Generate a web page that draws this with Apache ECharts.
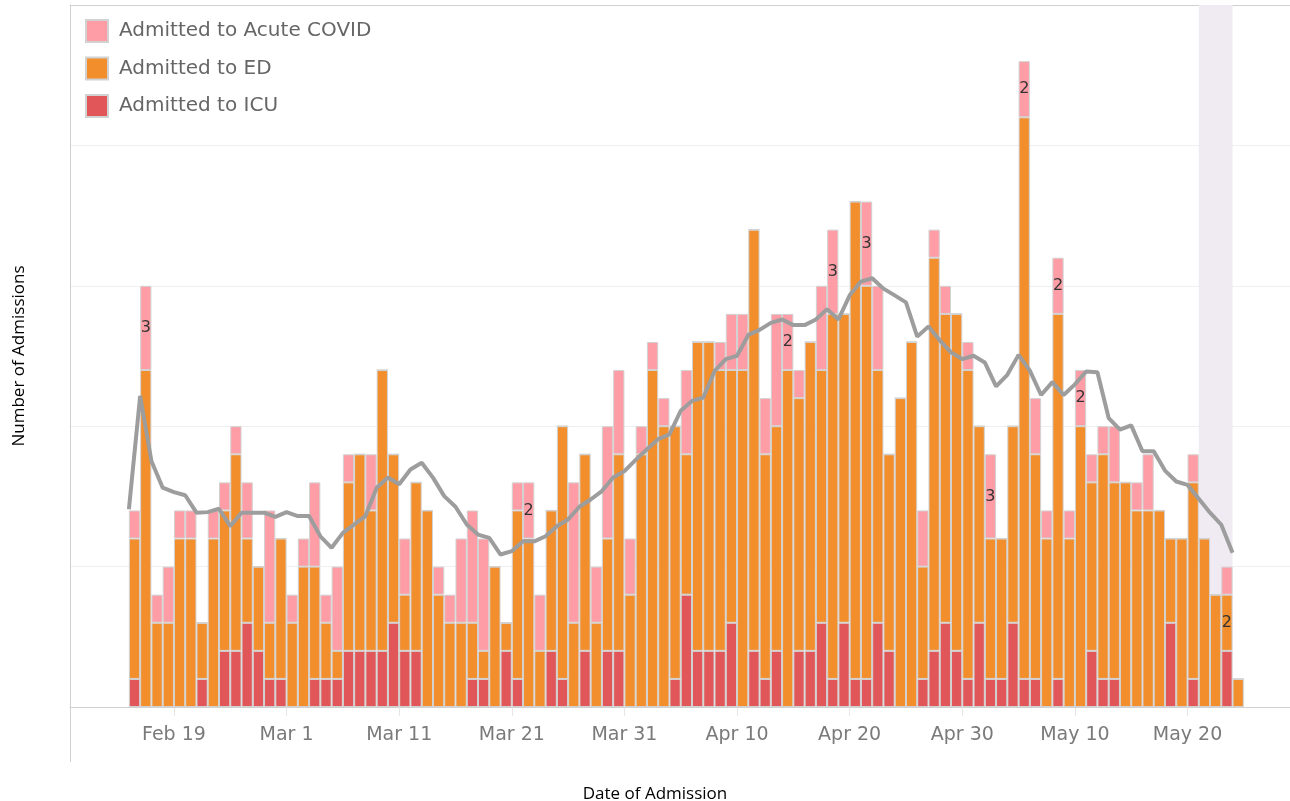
<!DOCTYPE html>
<html>
<head>
<meta charset="utf-8">
<script src="https://cdn.jsdelivr.net/npm/echarts@6/dist/echarts.min.js"></script>
<style>
html, body { margin: 0; padding: 0; background: #fff; }
#main { width: 1290px; height: 801px; }
</style>
</head>
<body>
<div id="main"></div>
<script>
// one bar per day, Feb 15 .. May 24 (99 days)
const startDate = Date.UTC(2021, 1, 15);
const icu = [1,0,0,0,0,0,1,0,2,2, 3,2,1,1,0,0,1,1,1,2, 2,2,2,3,2,2,0,0,0,0,
  1,1,0,2,1,0,0,2,1,0, 2,0,2,2,0,0,0,0,1,4, 2,2,2,3,0,2,1,2,0,2,
  2,3,1,3,1,1,3,2,0,0, 1,2,3,2,1,3,1,1,3,1, 1,0,1,0,0,2,1,1,0,0,
  0,0,3,0,1,0,0,2,0];
const ed = [5,12,3,3,6,6,2,6,5,7, 3,3,2,5,3,5,4,2,1,6, 7,5,10,6,2,6,7,4,3,3,
  2,1,5,1,6,6,2,5,9,3, 7,3,4,7,4,9,12,10,9,5, 11,11,10,9,12,15,8,8,12,9,
  11,9,13,11,17,14,9,7,11,13, 4,14,11,12,11,7,5,5,7,20, 8,6,13,6,10,6,8,7,8,7,
  7,7,3,6,7,6,4,2,1];
const acute = [1,3,1,2,1,1,0,1,1,1, 2,0,4,0,1,1,3,1,3,1, 0,2,0,0,2,0,0,1,1,3,
  4,4,0,0,1,2,2,0,0,5, 0,2,4,3,2,1,1,1,0,3, 0,0,1,2,2,0,2,4,2,1,
  0,3,3,0,0,3,3,0,0,0, 2,1,1,0,1,0,3,0,0,2, 2,1,2,1,2,1,1,2,0,1,
  2,0,0,0,1,0,0,1,0];
// moving average, one point at the start of each day
const movingAvg = [7.04,11.08,8.76,7.81,7.65,7.54,6.92,6.94,7.06,6.44,
  6.92,6.92,6.92,6.77,6.94,6.8,6.8,6.08,5.67,6.2,
  6.5,6.8,7.81,8.17,7.93,8.46,8.7,8.17,7.51,7.13,
  6.5,6.14,6.02,5.43,5.55,5.9,5.9,6.08,6.44,6.68,
  7.13,7.39,7.69,8.17,8.4,8.8,9.18,9.54,9.71,10.55,
  10.9,11.02,11.96,12.39,12.51,13.25,13.43,13.68,13.8,13.6,
  13.6,13.8,14.17,13.8,14.66,15.15,15.27,14.9,14.66,14.41,
  13.19,13.55,13.06,12.63,12.39,12.51,12.27,11.42,11.83,12.54,
  11.98,11.11,11.57,11.11,11.49,11.95,11.92,10.29,9.88,10.03,
  9.11,9.11,8.42,8.03,7.91,7.42,6.92,6.49,5.49];
const tickDays = [4,14,24,34,44,54,64,74,84,94];
const tickLabels = ['Feb 19','Mar 1','Mar 11','Mar 21','Mar 31','Apr 10','Apr 20','Apr 30','May 10','May 20'];
const acuteLabelDays = [1,35,58,62,65,76,79,82,84];
const edLabelDays = [97];
const shadedDays = [95, 98];

const DAY = 86400000;
const day = d => startDate + d * DAY;
const xMin = -5.23, xMax = 103.1;
// echarts widens a time axis by half a bar on each side when bars sit on it
const barPad = 0.5;
const font = '"Open Sans", sans-serif';
const tabFont = '"DejaVu Sans", sans-serif';
const chart = echarts.init(document.getElementById('main'));

function barData(values, labelDays) {
  return values.map((v, i) => ({
    value: [day(i + 0.5), v],
    label: { show: labelDays.includes(i) }
  }));
}

function barSeries(name, color, values, labelDays) {
  return {
    name: name,
    type: 'bar',
    stack: 'total',
    barWidth: 11.26,
    z: 3,
    itemStyle: { color: color, borderColor: '#d2d2d2', borderWidth: 1 },
    label: { position: 'inside', color: '#333', fontSize: 16, fontFamily: tabFont, formatter: p => p.value[1] },
    data: barData(values, labelDays)
  };
}

const option = {
  animation: false,
  grid: { left: 70, right: 0, top: 5, bottom: 94, outerBoundsMode: 'none' },
  legend: {
    data: ['Admitted to Acute COVID', 'Admitted to ED', 'Admitted to ICU'],
    orient: 'vertical',
    left: 85,
    top: 19,
    padding: 0,
    icon: 'rect',
    itemWidth: 22,
    itemHeight: 22,
    itemGap: 13.5,
    textStyle: { color: '#666', fontSize: 20, lineHeight: 22, fontFamily: tabFont, padding: [0, 0, 0, 6] }
  },
  xAxis: [
    {
      // date axis carrying the marks
      type: 'time',
      min: day(xMin + barPad),
      max: day(xMax - barPad),
      splitLine: { show: false },
      axisLine: { show: true, lineStyle: { color: '#d0d0d0' } },
      axisTick: { show: false },
      axisLabel: { show: false }
    },
    {
      type: 'value',
      position: 'top',
      min: xMin,
      max: xMax,
      splitLine: { show: false },
      axisLine: { show: true, onZero: false, lineStyle: { color: '#d0d0d0' } },
      axisTick: { show: false },
      axisLabel: { show: false }
    },
    {
      // same span in day numbers, only for ticks and labels
      type: 'value',
      position: 'bottom',
      min: xMin,
      max: xMax,
      splitLine: { show: false },
      axisLine: { show: false },
      axisTick: { show: true, customValues: tickDays, length: 9, lineStyle: { color: '#e6e6e6' } },
      axisLabel: {
        customValues: tickDays,
        formatter: v => tickLabels[tickDays.indexOf(v)],
        color: '#7a7a7a', fontSize: 19, fontFamily: tabFont, margin: 19
      },
      name: 'Date of Admission',
      nameLocation: 'middle',
      nameGap: 79,
      nameTextStyle: { color: '#000', fontSize: 17, fontFamily: font, padding: [0, 50, 0, 0] }
    }
  ],
  yAxis: {
    type: 'value',
    min: 0,
    max: 25,
    interval: 5,
    axisLabel: { show: false },
    axisTick: { show: false },
    axisLine: { show: true, onZero: false, lineStyle: { color: '#d0d0d0' } },
    splitLine: { lineStyle: { color: '#efefef' } },
    name: 'Number of Admissions',
    nameLocation: 'middle',
    nameRotate: 90,
    nameGap: 42,
    nameTextStyle: { color: '#000', fontSize: 17, fontFamily: font }
  },
  graphic: [{
    type: 'line',
    shape: { x1: 70.5, y1: 707, x2: 70.5, y2: 762 },
    style: { stroke: '#d0d0d0', lineWidth: 1 }
  }],
  series: [
    {
      name: 'shade',
      type: 'line',
      xAxisIndex: 2,
      z: 1,
      data: [],
      markArea: {
        silent: true,
        itemStyle: { color: '#f0eaf2' },
        data: [[{ xAxis: shadedDays[0] }, { xAxis: shadedDays[1] }]]
      }
    },
    barSeries('Admitted to ICU', '#e15759', icu, []),
    barSeries('Admitted to ED', '#f28e2b', ed, edLabelDays),
    barSeries('Admitted to Acute COVID', '#ff9da7', acute, acuteLabelDays),
    {
      name: 'Moving average',
      type: 'line',
      xAxisIndex: 2,
      z: 5,
      symbol: 'none',
      lineStyle: { color: '#9d9d9d', width: 4 },
      data: movingAvg.map((v, i) => [i, v])
    }
  ]
};
chart.setOption(option);
</script>
</body>
</html>
